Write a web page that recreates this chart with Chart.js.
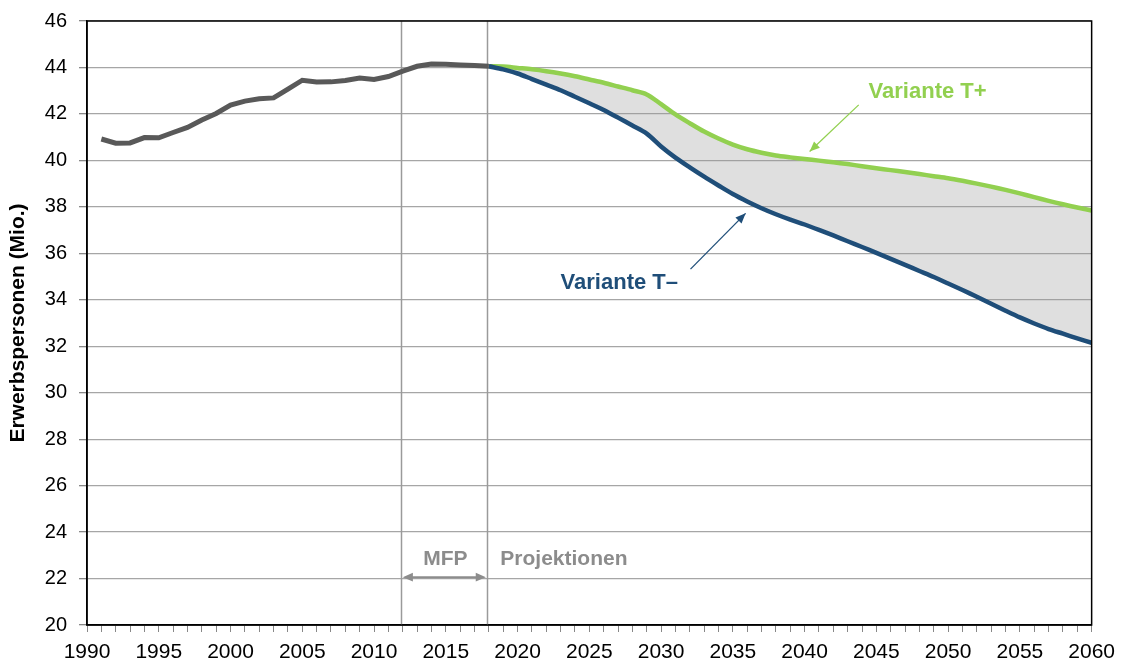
<!DOCTYPE html>
<html><head><meta charset="utf-8">
<script src="https://cdn.jsdelivr.net/npm/chart.js@4.4.1/dist/chart.umd.min.js"></script>
<style>html,body{margin:0;padding:0;background:#fff}#wrap{width:1123px;height:666px}</style>
</head><body><div id="wrap"><canvas id="c" width="1123" height="666"></canvas></div>
<script>
const histYears = [1991,1992,1993,1994,1995,1996,1997,1998,1999,2000,2001,2002,2003,2004,2005,2006,2007,2008,2009,2010,2011,2012,2013,2014,2015,2016,2017,2018];
const histValues = [40.92,40.74,40.75,40.98,40.97,41.2,41.42,41.74,42.02,42.38,42.55,42.65,42.69,43.07,43.45,43.37,43.38,43.44,43.55,43.48,43.61,43.84,44.05,44.15,44.14,44.11,44.08,44.05];
const projYears = [2018,2019,2020,2021,2022,2023,2024,2025,2026,2027,2028,2029,2030,2031,2032,2033,2034,2035,2036,2037,2038,2039,2040,2041,2042,2043,2044,2045,2046,2047,2048,2049,2050,2051,2052,2053,2054,2055,2056,2057,2058,2059,2060];
const tPlus  = [44.05,44.04,43.98,43.92,43.84,43.74,43.62,43.48,43.34,43.18,43.02,42.84,42.42,41.98,41.6,41.24,40.94,40.68,40.48,40.33,40.21,40.13,40.06,39.99,39.92,39.84,39.75,39.66,39.58,39.5,39.41,39.32,39.23,39.12,39.0,38.87,38.73,38.58,38.42,38.26,38.11,37.97,37.84];
const tMinus = [44.05,43.92,43.74,43.5,43.26,43.02,42.74,42.46,42.17,41.84,41.5,41.15,40.6,40.12,39.7,39.3,38.92,38.55,38.23,37.94,37.68,37.45,37.24,37.01,36.77,36.52,36.27,36.02,35.76,35.5,35.24,34.98,34.7,34.42,34.13,33.83,33.53,33.24,32.98,32.74,32.54,32.34,32.15];
const yTicks = [20,22,24,26,28,30,32,34,36,38,40,42,44,46];
const xLabelYears = [1990,1995,2000,2005,2010,2015,2020,2025,2030,2035,2040,2045,2050,2055,2060];

const pts = (xs, ys) => xs.map((x,i)=>({x, y: ys[i]}));
const FONT = "'Liberation Sans', Arial, sans-serif";

function arrowHead(ctx, x1,y1,x2,y2,size){
  const a = Math.atan2(y2-y1,x2-x1);
  ctx.beginPath();
  ctx.moveTo(x2,y2);
  ctx.lineTo(x2-size*Math.cos(a-0.4), y2-size*Math.sin(a-0.4));
  ctx.lineTo(x2-size*Math.cos(a+0.4), y2-size*Math.sin(a+0.4));
  ctx.closePath(); ctx.fill();
}

const overlay = {
  id:'overlay',
  beforeDatasetsDraw(chart){
    const {ctx, chartArea:a, scales:{x,y}} = chart;
    ctx.save();
    ctx.strokeStyle = '#9a9a9a'; ctx.lineWidth = 1.5;
    [2012,2018].forEach(v=>{
      const px = Math.round(x.getPixelForValue(v))-1.5;
      ctx.beginPath(); ctx.moveTo(px,a.top); ctx.lineTo(px,a.bottom); ctx.stroke();
    });
    ctx.restore();
  },
  afterDatasetsDraw(chart){
    const {ctx, chartArea:a, scales:{x,y}} = chart;
    ctx.save();
    ctx.strokeStyle = '#000'; ctx.lineWidth = 1.5;
    ctx.strokeRect(a.left, a.top, a.right-a.left, a.bottom-a.top);
    ctx.fillStyle = '#8c8c8c';
    ctx.font = "bold 21px "+FONT;
    ctx.textBaseline = 'middle';
    ctx.textAlign = 'center';
    ctx.fillText('MFP', x.getPixelForValue(2014.97), y.getPixelForValue(22.83));
    ctx.textAlign = 'left';
    ctx.fillText('Projektionen', x.getPixelForValue(2018.8), y.getPixelForValue(22.83));
    const ay = y.getPixelForValue(22.06);
    const ax1 = x.getPixelForValue(2012), ax2 = x.getPixelForValue(2018)-3;
    ctx.strokeStyle = '#8c8c8c'; ctx.lineWidth = 2;
    ctx.beginPath(); ctx.moveTo(ax1+6,ay); ctx.lineTo(ax2-6,ay); ctx.stroke();
    arrowHead(ctx, ax2, ay, ax1, ay, 11);
    arrowHead(ctx, ax1, ay, ax2, ay, 11);
    ctx.font = "bold 22px "+FONT;
    ctx.fillStyle = '#92d050'; ctx.strokeStyle = '#92d050';
    ctx.fillText('Variante T+', x.getPixelForValue(2044.46), y.getPixelForValue(42.95));
    let sx = x.getPixelForValue(2043.77), sy = y.getPixelForValue(42.39);
    let tx = x.getPixelForValue(2040.35), ty = y.getPixelForValue(40.38);
    ctx.lineWidth = 1.3;
    ctx.beginPath(); ctx.moveTo(sx,sy); ctx.lineTo(tx,ty); ctx.stroke();
    arrowHead(ctx, sx,sy,tx,ty,11);
    ctx.fillStyle = '#1f4e79'; ctx.strokeStyle = '#1f4e79';
    ctx.fillText('Variante T\u2013', x.getPixelForValue(2023.0), y.getPixelForValue(34.71));
    sx = x.getPixelForValue(2032.05); sy = y.getPixelForValue(35.32);
    tx = x.getPixelForValue(2035.89); ty = y.getPixelForValue(37.72);
    ctx.beginPath(); ctx.moveTo(sx,sy); ctx.lineTo(tx,ty); ctx.stroke();
    arrowHead(ctx, sx,sy,tx,ty,11);
    ctx.restore();
  }
};

new Chart(document.getElementById('c'), {
  type:'line',
  data:{
    datasets:[
      {label:'T+', data: pts(projYears,tPlus), borderColor:'#92d050', borderWidth:4.5, pointRadius:0, fill:'+1', backgroundColor:'rgba(150,150,150,0.3)', tension:0.3, order:2},
      {label:'T-', data: pts(projYears,tMinus), borderColor:'#1f4e79', borderWidth:4.5, pointRadius:0, fill:false, tension:0.3, order:1},
      {label:'hist', data: pts(histYears,histValues), borderColor:'#595959', borderWidth:5, pointRadius:0, fill:false, tension:0, order:0}
    ]
  },
  options:{
    responsive:false, animation:false,
    layout:{padding:{top:19,right:31,left:0,bottom:0}},
    plugins:{legend:{display:false}, tooltip:{enabled:false}},
    scales:{
      x:{type:'linear', min:1990, max:2060,
        afterFit(s){ s.height = 41; },
        afterBuildTicks(s){ const t=[]; for(let v=1990; v<=2060; v++) t.push({value:v}); s.ticks = t; },
        ticks:{autoSkip:false, maxRotation:0, padding:8, color:'#000', font:{family:FONT,size:21},
          callback:(v)=> xLabelYears.includes(v) ? String(v) : ''},
        grid:{drawOnChartArea:false, drawTicks:true, tickLength:7, tickColor:'#888', lineWidth:1},
        border:{color:'#000', width:1.5}
      },
      y:{min:20, max:46,
        afterFit(s){ s.width = 87; },
        afterBuildTicks(s){ s.ticks = yTicks.map(v=>({value:v})); },
        ticks:{color:'#000', padding:12, font:{family:FONT,size:20,lineHeight:0.9}},
        grid:{color:'#a6a6a6', tickColor:'#888', tickLength:8, lineWidth:1.3},
        border:{color:'#000', width:1.5},
        title:{display:true, text:'Erwerbspersonen (Mio.)', color:'#000', font:{family:FONT,size:21,weight:'bold'}, padding:{top:6,bottom:0}}
      }
    }
  },
  plugins:[overlay]
});
</script></body></html>
